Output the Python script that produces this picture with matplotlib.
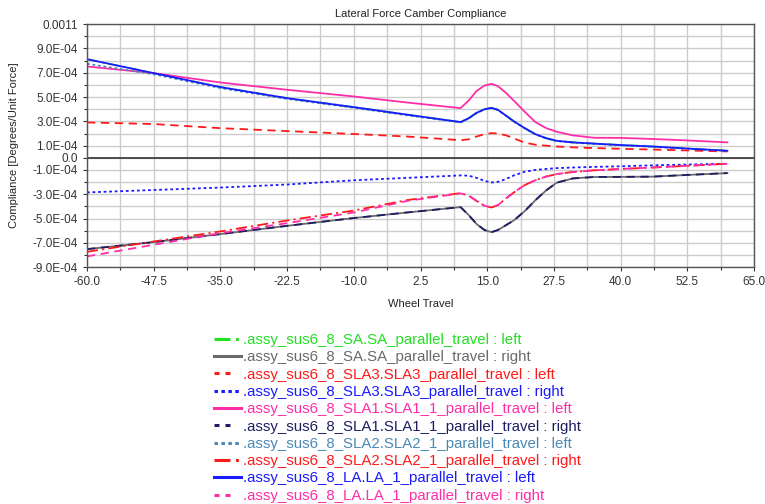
import matplotlib
matplotlib.use("Agg")
import matplotlib.pyplot as plt

plt.rcParams['font.family'] = ['Liberation Sans', 'DejaVu Sans']
plt.rcParams['lines.scale_dashes'] = False

# wheel travel sample points
x = [-60, -47.5, -35, -22.5, -10, 0, 10, 11.5, 13, 14.5, 15.8, 17, 18.5, 20, 22, 24, 26, 28, 31, 35, 40, 46, 53, 60]

# compliance values (x 1E-4)
la_left = [8.12, 6.97, 5.82, 4.91, 4.17, 3.55, 2.94, 3.25, 3.70, 4.00, 4.11, 3.95, 3.48, 3.00, 2.45, 1.95, 1.62, 1.40, 1.27, 1.17, 1.05, 0.93, 0.75, 0.58]
sa_left = la_left
sla2_left = [7.74, 6.88, 5.74, 4.85, 4.12, 3.50, 2.92, 3.23, 3.68, 3.98, 4.09, 3.93, 3.46, 2.98, 2.43, 1.93, 1.60, 1.38, 1.25, 1.15, 1.03, 0.91, 0.73, 0.57]
sla1_left = [7.52, 6.97, 6.20, 5.60, 5.05, 4.55, 4.09, 4.70, 5.50, 5.95, 6.09, 5.90, 5.35, 4.70, 3.80, 2.95, 2.45, 2.15, 1.85, 1.65, 1.64, 1.55, 1.42, 1.27]
sla3_left = [2.91, 2.78, 2.44, 2.20, 1.96, 1.75, 1.45, 1.52, 1.75, 1.95, 2.03, 2.00, 1.85, 1.60, 1.25, 1.08, 1.00, 0.93, 0.86, 0.80, 0.74, 0.68, 0.60, 0.52]
sla3_right = [-2.85, -2.65, -2.45, -2.20, -1.85, -1.65, -1.45, -1.47, -1.65, -1.90, -2.03, -1.98, -1.75, -1.45, -1.15, -1.00, -0.92, -0.85, -0.80, -0.75, -0.70, -0.62, -0.55, -0.49]
sla1_right = [-7.52, -6.94, -6.28, -5.60, -4.96, -4.50, -4.06, -4.70, -5.45, -5.95, -6.12, -5.95, -5.55, -5.15, -4.40, -3.50, -2.70, -2.05, -1.70, -1.58, -1.57, -1.55, -1.40, -1.26]
sa_right = sla1_right
sla2_right = [-7.74, -6.89, -6.06, -5.16, -4.34, -3.48, -2.91, -3.10, -3.55, -3.95, -4.09, -3.90, -3.35, -2.85, -2.25, -1.85, -1.55, -1.34, -1.17, -1.03, -0.92, -0.80, -0.65, -0.49]
la_right = [-8.12, -7.16, -6.20, -5.38, -4.50, -3.55, -2.93, -3.10, -3.55, -3.95, -4.09, -3.90, -3.35, -2.85, -2.25, -1.85, -1.55, -1.34, -1.17, -1.03, -0.92, -0.80, -0.65, -0.49]

dashdot = (0, (8, 3, 1.5, 3))
dashed = (0, (6, 4))
dotted = (0, (2, 2))
leg_dashdot = (0, (11.5, 4, 2, 20))
leg_dashed = (0, (3.6, 4.3, 3.6, 20))
leg_dotted = (0, (2.5, 2.5))

series = [
    (".assy_sus6_8_SA.SA_parallel_travel : left", sa_left, "#22e022", dashdot, leg_dashdot),
    (".assy_sus6_8_SA.SA_parallel_travel : right", sa_right, "#6a6a6a", "-", "-"),
    (".assy_sus6_8_SLA3.SLA3_parallel_travel : left", sla3_left, "#ff1a1a", dashed, leg_dashed),
    (".assy_sus6_8_SLA3.SLA3_parallel_travel : right", sla3_right, "#1a1aff", dotted, leg_dotted),
    (".assy_sus6_8_SLA1.SLA1_1_parallel_travel : left", sla1_left, "#ff2da8", "-", "-"),
    (".assy_sus6_8_SLA1.SLA1_1_parallel_travel : right", sla1_right, "#1e1e64", dashed, leg_dashed),
    (".assy_sus6_8_SLA2.SLA2_1_parallel_travel : left", sla2_left, "#4a8ab5", dotted, leg_dotted),
    (".assy_sus6_8_SLA2.SLA2_1_parallel_travel : right", sla2_right, "#ff1a1a", dashdot, leg_dashdot),
    (".assy_sus6_8_LA.LA_1_parallel_travel : left", la_left, "#1a1aff", "-", "-"),
    (".assy_sus6_8_LA.LA_1_parallel_travel : right", la_right, "#ff2da8", dashed, leg_dashed),
]

y_ticks = [0.0011, 9e-4, 7e-4, 5e-4, 3e-4, 1e-4, 0.0, -1e-4, -3e-4, -5e-4, -7e-4, -9e-4]
y_tick_labels = ["0.0011", "9.0E-04", "7.0E-04", "5.0E-04", "3.0E-04", "1.0E-04", "0.0",
                 "-1.0E-04", "-3.0E-04", "-5.0E-04", "-7.0E-04", "-9.0E-04"]
x_ticks = [-60.0, -47.5, -35.0, -22.5, -10.0, 2.5, 15.0, 27.5, 40.0, 52.5, 65.0]

fig = plt.figure(figsize=(7.65, 5.04), dpi=100)
ax = fig.add_axes([0.1137, 0.470, 0.872, 0.482])

for label, vals, color, ls, _ in series:
    ax.plot(x, [v * 1e-4 for v in vals], color=color, linestyle=ls, lw=1.3, label=label)

ax.axhline(0, color="#404040", lw=1.3, zorder=1)

ax.set_xlim(-60, 65)
ax.set_ylim(-9e-4, 0.0011)
ax.set_xticks(x_ticks)
ax.set_xticklabels(["%.1f" % t for t in x_ticks])
ax.set_xticks([t + 6.25 for t in x_ticks[:-1]], minor=True)
ax.set_yticks(y_ticks)
ax.set_yticklabels(y_tick_labels)
ax.set_yticks([i * 1e-4 for i in range(-8, 11, 2)], minor=True)
ax.grid(True, which="both", color="#cccccc", lw=1.0, zorder=0)
ax.set_axisbelow(True)
ax.tick_params(which="both", labelsize=8.5, colors="#333333", length=3, width=0.8)
ax.tick_params(which="minor", length=2)
for s in ax.spines.values():
    s.set_color("#555555")
    s.set_linewidth(1.0)

ax.set_title("Lateral Force Camber Compliance", fontsize=8, pad=5, color="#222222")
ax.set_xlabel("Wheel Travel", fontsize=8, color="#222222", labelpad=8)
ax.set_ylabel("Compliance [Degrees/Unit Force]", fontsize=8, color="#222222", labelpad=10)

leg = fig.legend(loc="upper left", bbox_to_anchor=(0.270, 0.354), frameon=False,
                 fontsize=10.8, handlelength=1.8, handletextpad=0.1, labelspacing=0.22,
                 borderpad=0, labelcolor="linecolor")
for h, s in zip(leg.legend_handles, series):
    h.set_linewidth(2.2)
    h.set_linestyle(s[4])

fig.savefig("out.png", dpi=100)
